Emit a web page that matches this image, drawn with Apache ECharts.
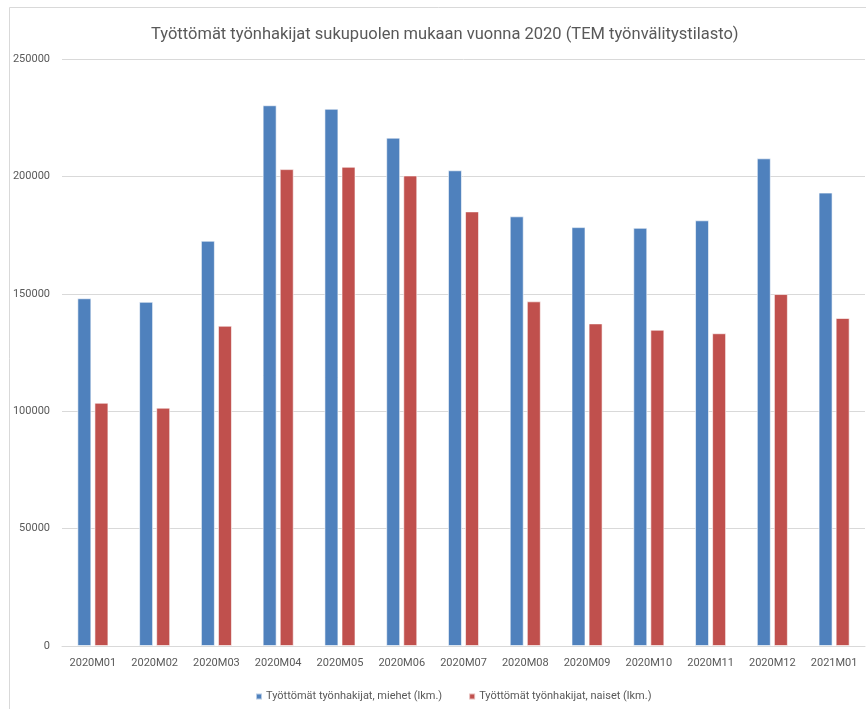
<!DOCTYPE html>
<html>
<head>
<meta charset="utf-8">
<script src="https://cdn.jsdelivr.net/npm/echarts@6/dist/echarts.min.js"></script>
<style>
html,body{margin:0;padding:0;background:#fff;}
#c{width:866px;height:709px;}
</style>
</head>
<body>
<div id="c"></div>
<script>
var categories = ['2020M01','2020M02','2020M03','2020M04','2020M05','2020M06','2020M07','2020M08','2020M09','2020M10','2020M11','2020M12','2021M01'];
var men = [148100, 146600, 172600, 230300, 228800, 216500, 202600, 183000, 178400, 178100, 181300, 207700, 193100];
var women = [103600, 101500, 136400, 203100, 204100, 200400, 185100, 146800, 137400, 134700, 133200, 149900, 139700];
var seriesNames = ['Työttömät työnhakijat, miehet (lkm.)', 'Työttömät työnhakijat, naiset (lkm.)'];
var titleText = 'Työttömät työnhakijat sukupuolen mukaan vuonna 2020 (TEM työnvälitystilasto)';

var chart = echarts.init(document.getElementById('c'));
var font = 'Roboto, sans-serif';
chart.setOption({
  animation: false,
  backgroundColor: '#fff',
  graphic: [{
    type: 'rect', left: 7, top: 5,
    shape: { width: 900, height: 720 },
    style: { fill: 'none', stroke: '#d9d9d9', lineWidth: 1 }
  }],
  title: {
    text: titleText, left: 146, top: 21,
    textStyle: { fontFamily: font, fontWeight: 'normal', fontSize: 16.5, color: '#595959' }
  },
  legend: {
    top: 686, left: 250, itemWidth: 6, itemHeight: 6, itemGap: 26,
    icon: 'rect',
    textStyle: { fontFamily: font, fontSize: 11, color: '#595959', padding: [0, 0, 0, -1] },
    data: seriesNames
  },
  grid: { left: 62, right: 1, top: 59, bottom: 63 },
  xAxis: {
    type: 'category', data: categories,
    axisLine: { lineStyle: { color: '#d9d9d9' } },
    axisTick: { show: false },
    axisLabel: { fontFamily: font, fontSize: 11, color: '#595959', margin: 12, interval: 0 }
  },
  yAxis: {
    type: 'value', min: 0, max: 250000, interval: 50000,
    axisLine: { show: false }, axisTick: { show: false },
    splitLine: { lineStyle: { color: '#d9d9d9' } },
    axisLabel: { fontFamily: font, fontSize: 11, color: '#595959', margin: 12,
      formatter: function (v) { return String(v); } }
  },
  series: [
    { name: seriesNames[0], type: 'bar', data: men, barWidth: 14, barGap: '22%',
      itemStyle: { color: '#4F81BD', borderColor: 'rgba(255,255,255,0.6)', borderWidth: 1 } },
    { name: seriesNames[1], type: 'bar', data: women, barWidth: 14,
      itemStyle: { color: '#C0504D', borderColor: 'rgba(255,255,255,0.6)', borderWidth: 1 } }
  ]
});
</script>
</body>
</html>
